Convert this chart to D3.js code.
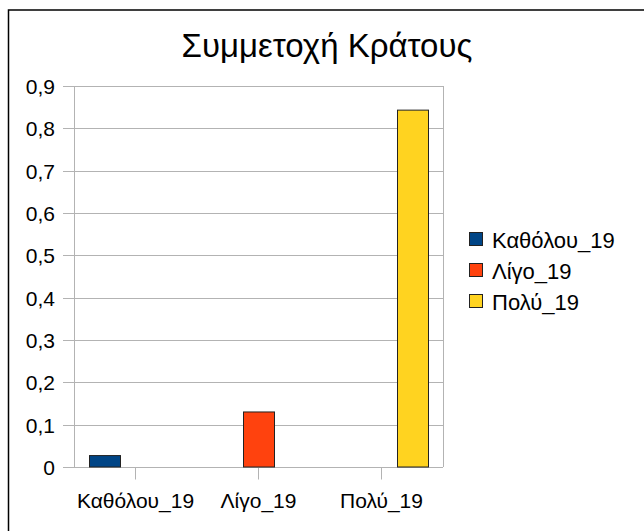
<html>
<head>
<meta charset="utf-8">
<title>Συμμετοχή Κράτους</title>
<script type="text/javascript" src="https://cdn.jsdelivr.net/npm/d3@7"></script>
<style>
  body { margin: 0; background: #fff; }
  text { font-family: "Liberation Sans", Arial, sans-serif; fill: #000; }
</style>
</head>
<body>
<div id="chart"></div>

<script type="text/javascript">
// data
var categories = ["Καθόλου_19", "Λίγο_19", "Πολύ_19"];
var seriesNames = ["Καθόλου_19", "Λίγο_19", "Πολύ_19"];
var seriesColors = ["#004586", "#ff420e", "#ffd320"];
// one row per series, one value per category
var kathólou = [0.027, 0, 0];
var lígo = [0, 0.13, 0];
var polý = [0, 0, 0.843];
var yTicks = [0, 0.1, 0.2, 0.3, 0.4, 0.5, 0.6, 0.7, 0.8, 0.9];

var seriesValues = [kathólou, lígo, polý];

drawChart('#chart', 644, 531);

function drawChart(id, width, height)
{
    var svg = d3.select(id).append("svg")
                .attr("width", width)
                .attr("height", height);

    // frame
    svg.append("rect")
       .attr("x", 8.5).attr("y", 10)
       .attr("width", width + 20).attr("height", height + 20)
       .attr("fill", "#fff")
       .attr("stroke", "#000")
       .attr("stroke-width", 1.5);

    var left = 74, right = 443, top = 86, bottom = 467;

    var y = d3.scaleLinear().domain([0, 0.9]).range([bottom, top]);
    var x0 = d3.scaleBand().domain(categories).range([left, right]);
    var gap = 30;
    var x1 = d3.scaleBand().domain(seriesNames)
               .range([gap / 2, x0.bandwidth() - gap / 2]);

    var fmt = function(d) { return d3.format("~g")(d).replace(".", ","); };

    // horizontal grid
    svg.append("g").selectAll("line")
       .data(yTicks)
       .enter().append("line")
       .attr("x1", left - 11).attr("x2", right)
       .attr("y1", function(d) { return Math.round(y(d)) + 0.5; })
       .attr("y2", function(d) { return Math.round(y(d)) + 0.5; })
       .attr("stroke", "#b3b3b3");

    // y axis
    var yAxis = svg.append("g")
       .attr("transform", "translate(" + left + ",0)")
       .call(d3.axisLeft(y).tickValues(yTicks).tickFormat(fmt).tickSize(0).tickPadding(19));
    yAxis.select(".domain").remove();
    yAxis.selectAll("text").style("font-size", "21px").attr("dy", "0.35em");

    svg.append("line")
       .attr("x1", left + 0.5).attr("x2", left + 0.5)
       .attr("y1", top).attr("y2", bottom)
       .attr("stroke", "#b3b3b3");
    svg.append("line")
       .attr("x1", right + 0.5).attr("x2", right + 0.5)
       .attr("y1", top).attr("y2", bottom)
       .attr("stroke", "#b3b3b3");

    // x axis
    var xAxis = svg.append("g")
       .attr("transform", "translate(0," + (Math.round(bottom) + 0.5) + ")")
       .call(d3.axisBottom(x0).tickSize(12).tickPadding(14).tickSizeOuter(0));
    xAxis.select(".domain").remove();
    xAxis.selectAll("line").attr("stroke", "#b3b3b3");
    xAxis.selectAll("text").style("font-size", "21px");

    // bars
    var group = svg.selectAll(".grp")
       .data(categories)
       .enter().append("g")
       .attr("class", "grp")
       .attr("transform", function(d) { return "translate(" + x0(d) + ",0)"; });

    group.selectAll("rect")
       .data(function(d, i) {
           return seriesNames.map(function(s, j) {
               return { name: s, value: seriesValues[j][i], color: seriesColors[j] };
           });
       })
       .enter().append("rect")
       .filter(function(d) { return d.value > 0; })
       .attr("x", function(d) { return x1(d.name) + 0.5; })
       .attr("y", function(d) { return y(d.value); })
       .attr("width", x1.bandwidth())
       .attr("height", function(d) { return y(0) - y(d.value); })
       .attr("fill", function(d) { return d.color; })
       .attr("stroke", "#222")
       .attr("stroke-width", 1);

    // title
    svg.append("text")
       .attr("x", 327).attr("y", 57)
       .attr("text-anchor", "middle")
       .style("font-size", "33px")
       .text("Συμμετοχή Κράτους");

    // legend
    var legend = svg.selectAll(".leg")
       .data(seriesNames)
       .enter().append("g")
       .attr("class", "leg")
       .attr("transform", function(d, i) { return "translate(469," + (232 + i * 31) + ")"; });
    legend.append("rect")
       .attr("x", 0.5).attr("y", 0.5)
       .attr("width", 13).attr("height", 13)
       .attr("fill", function(d, i) { return seriesColors[i]; })
       .attr("stroke", "#222");
    legend.append("text")
       .attr("x", 23).attr("y", 16)
       .style("font-size", "22px")
       .text(function(d) { return d; });
}
</script>
</body>
</html>
